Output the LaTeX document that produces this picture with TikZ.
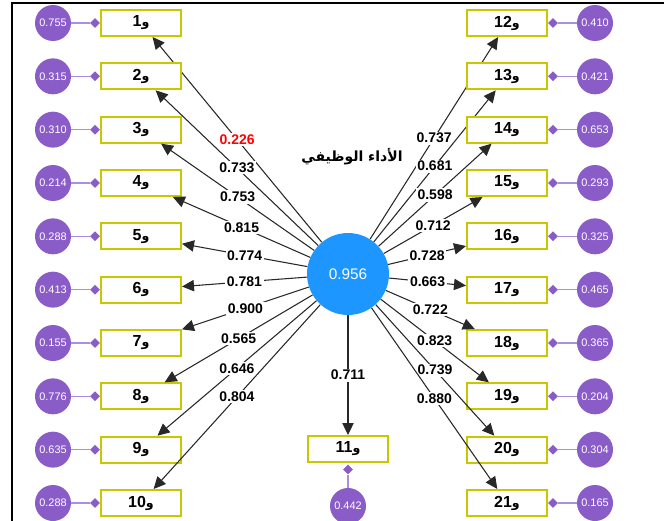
\documentclass[tikz,border=0pt]{standalone}
\usepackage{fontspec}
\setmainfont{Liberation Sans}
\newfontfamily\arfont[Script=Arabic]{DejaVu Sans}
\TeXXeTstate=1
\usetikzlibrary{arrows.meta,shapes.geometric}
\definecolor{errpurple}{RGB}{138,92,200}
\definecolor{errline}{RGB}{172,142,222}
\definecolor{boxyellow}{RGB}{200,200,0}
\definecolor{facblue}{RGB}{30,150,255}
\definecolor{arrgray}{RGB}{40,40,40}
\newcommand\wawlab[1]{{\arfont\bfseries\beginR{\fontsize{9.5}{11}\selectfont و}\beginL{\setmainfont{Liberation Sans}\rmfamily\bfseries\fontsize{12}{13}\selectfont#1}\endL\endR}}
\tikzset{
  indbox/.style={draw=boxyellow, line width=1.5pt, fill=white, minimum width=60pt, minimum height=19.5pt, inner sep=0pt, font=\fontsize{10.5}{12}\selectfont},
  errcirc/.style={circle, fill=errpurple, minimum size=27pt, inner sep=0pt, text=white, font=\fontsize{8.2}{10}\selectfont},
  errdia/.style={diamond, fill=errpurple, minimum width=7.5pt, minimum height=7.5pt, inner sep=0pt},
  errconn/.style={draw=errline, line width=1.1pt},
  arrconn/.style={draw=arrgray, line width=0.8pt, -{Triangle[length=9pt,width=8.5pt]}},
  wlabel/.style={fill=white, inner sep=1.2pt, font=\bfseries\fontsize{10.5}{12}\selectfont},
  frameline/.style={line width=1.5pt, black}
}
\begin{document}
\begin{tikzpicture}[x=0.75pt,y=-0.75pt]
\useasboundingbox (0,0) rectangle (664,521);
\draw[frameline] (12,521) -- (12,3) -- (664,3);
\node[circle, fill=facblue, minimum size=61.5pt, inner sep=0pt, text=white, font=\fontsize{11.5}{13}\selectfont] (F) at (348,274) {0.956};
\node[font=\fontsize{10.5}{12}\selectfont] (T) at (352,157) {\arfont\bfseries\beginR الأداء الوظيفي\endR};
% left side
\foreach \n/\w/\e/\c [count=\k from 0] in {1/0.226/0.755/red, 2/0.733/0.315/black, 3/0.753/0.310/black, 4/0.815/0.214/black, 5/0.774/0.288/black, 6/0.781/0.413/black, 7/0.900/0.155/black, 8/0.565/0.776/black, 9/0.646/0.635/black, 10/0.804/0.288/black}{
  \pgfmathsetmacro\yy{23+53.333*\k}
  \node[indbox] (v\n) at (141,\yy) {\wawlab{\n}};
  \node[errdia] (d\n) at (95,\yy) {};
  \node[errcirc] (e\n) at (53,\yy) {\e};
  \draw[errconn] (e\n) -- (d\n);
  \draw[arrconn] (F) -- node[wlabel, text=\c] (w\n) {\w} (v\n);
}
% right side
\foreach \n/\w/\e [count=\k from 0] in {12/0.737/0.410, 13/0.681/0.421, 14/0.598/0.653, 15/0.712/0.293, 16/0.728/0.325, 17/0.663/0.465, 18/0.722/0.365, 19/0.823/0.204, 20/0.739/0.304, 21/0.880/0.165}{
  \pgfmathsetmacro\yy{23+53.333*\k}
  \node[indbox] (v\n) at (507,\yy) {\wawlab{\n}};
  \node[errdia] (d\n) at (553,\yy) {};
  \node[errcirc] (e\n) at (595,\yy) {\e};
  \draw[errconn] (e\n) -- (d\n);
  \draw[arrconn] (F) -- node[wlabel] (w\n) {\w} (v\n);
}
% bottom
\node[indbox] (v11) at (348,449) {\wawlab{11}};
\node[errdia] (d11) at (348,469.5) {};
\node[errcirc] (e11) at (348,506) {0.442};
\draw[errconn] (e11) -- (d11);
\draw[arrconn] (F) -- node[wlabel] (w11) {0.711} (v11);
\end{tikzpicture}
\end{document}
